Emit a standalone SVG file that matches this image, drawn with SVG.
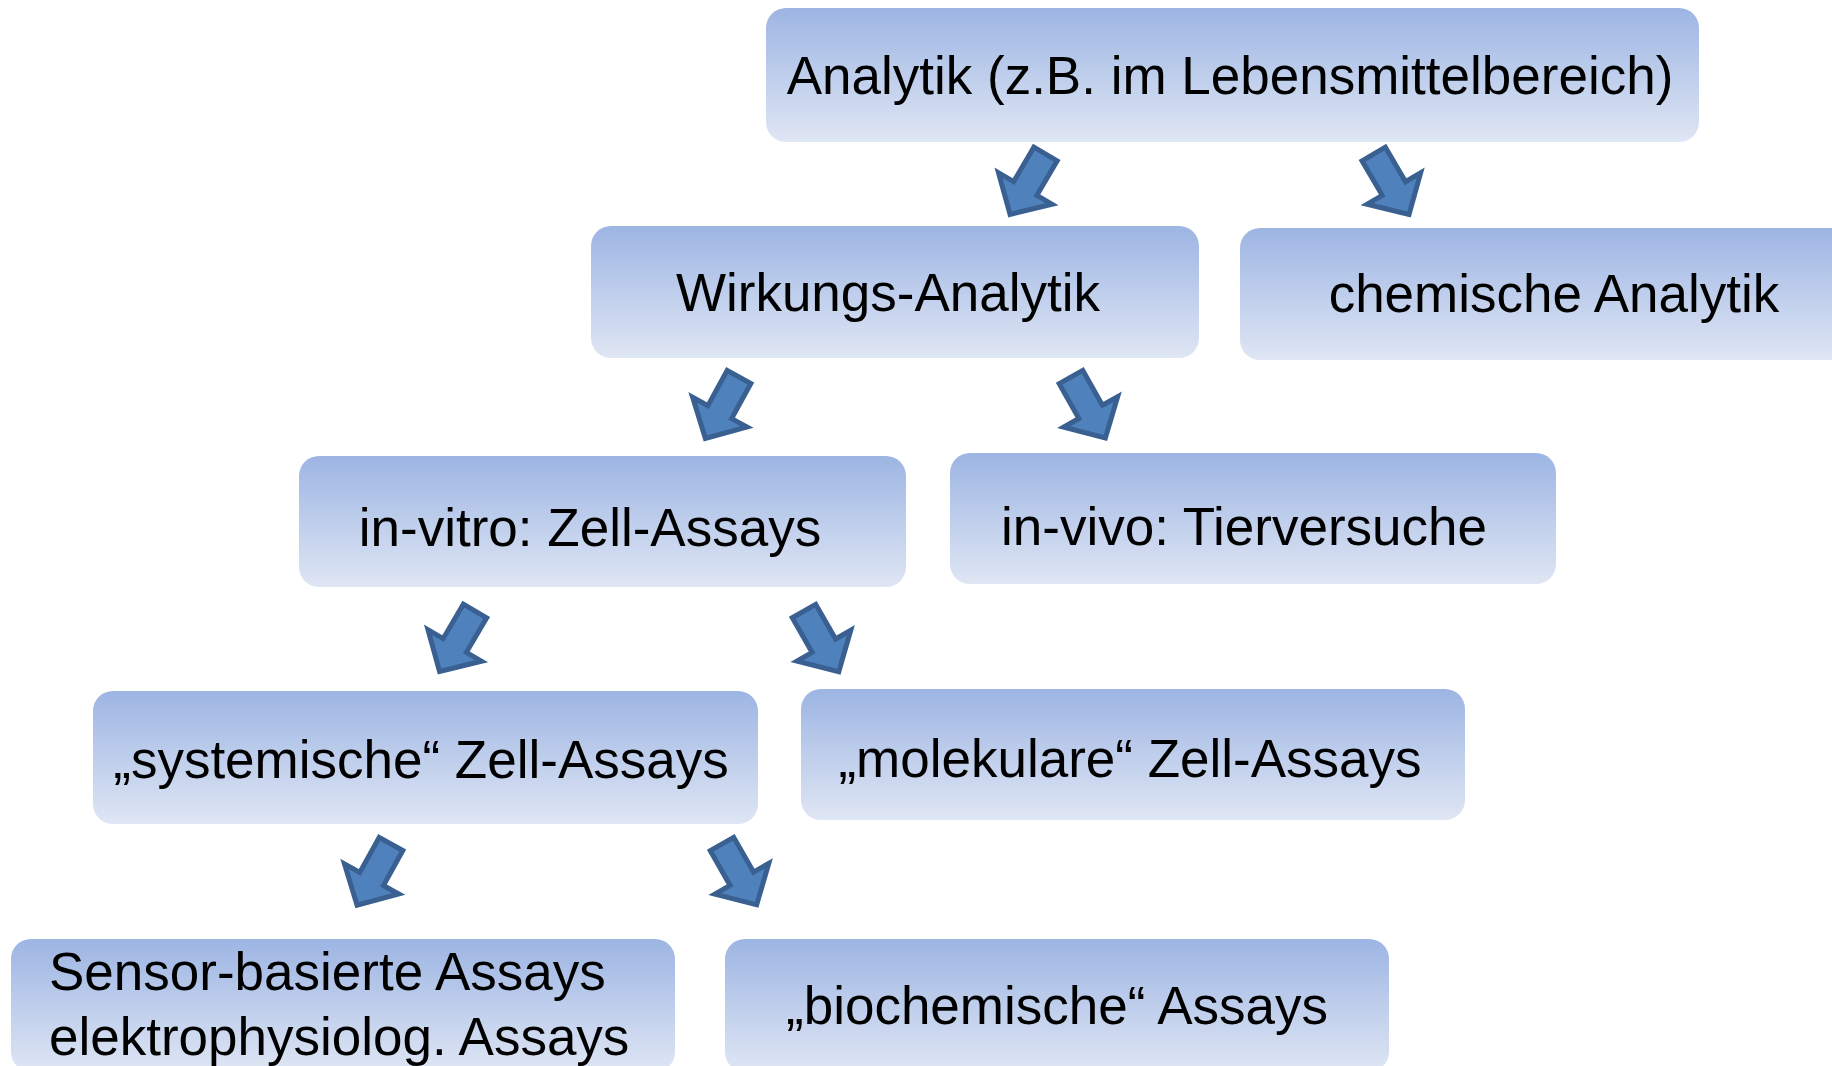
<svg xmlns="http://www.w3.org/2000/svg" width="1832" height="1066" viewBox="0 0 1832 1066">
  <defs>
    <linearGradient id="boxGrad" x1="0" y1="0" x2="0" y2="1">
      <stop offset="0" stop-color="#9db5e3"/>
      <stop offset="1" stop-color="#dfe6f4"/>
    </linearGradient>
    <path id="arrow" d="M -13.5,0 L 13.5,0 L 13.5,40 L 31,40 L 0,70 L -31,40 L -13.5,40 Z"/>
  </defs>
  <style>
    .box { fill: url(#boxGrad); }
    .lbl { font-family: "Liberation Sans", Arial, sans-serif; font-size: 53px; fill: #000; text-anchor: middle; }
    .lbl-l { font-family: "Liberation Sans", Arial, sans-serif; font-size: 53px; fill: #000; text-anchor: start; }
    .arr { fill: #4f81bd; stroke: #3a6091; stroke-width: 5; stroke-linejoin: miter; }
  </style>
  <rect width="1832" height="1066" fill="#ffffff"/>

  <g id="n-analytik">
    <rect class="box" x="766" y="8" width="933" height="134" rx="20"/>
    <text class="lbl" x="1230" y="94">Analytik (z.B. im Lebensmittelbereich)</text>
  </g>
  <g id="n-wirkung">
    <rect class="box" x="591" y="226" width="608" height="132" rx="20"/>
    <text class="lbl" x="888" y="311">Wirkungs-Analytik</text>
  </g>
  <g id="n-chemisch">
    <rect class="box" x="1240" y="228" width="620" height="132" rx="20"/>
    <text class="lbl" x="1554" y="312">chemische Analytik</text>
  </g>
  <g id="n-invitro">
    <rect class="box" x="299" y="456" width="607" height="131" rx="20"/>
    <text class="lbl" x="590" y="546">in-vitro: Zell-Assays</text>
  </g>
  <g id="n-invivo">
    <rect class="box" x="950" y="453" width="606" height="131" rx="20"/>
    <text class="lbl" x="1244" y="545">in-vivo: Tierversuche</text>
  </g>
  <g id="n-systemisch">
    <rect class="box" x="93" y="691" width="665" height="133" rx="20"/>
    <text class="lbl" x="421" y="778">„systemische“ Zell-Assays</text>
  </g>
  <g id="n-molekular">
    <rect class="box" x="801" y="689" width="664" height="131" rx="20"/>
    <text class="lbl" x="1130" y="777">„molekulare“ Zell-Assays</text>
  </g>
  <g id="n-sensor">
    <rect class="box" x="11" y="939" width="664" height="133" rx="20"/>
    <text class="lbl-l" x="49" y="990">Sensor-basierte Assays</text>
    <text class="lbl-l" x="49" y="1055">elektrophysiolog. Assays</text>
  </g>
  <g id="n-biochemisch">
    <rect class="box" x="725" y="939" width="664" height="133" rx="20"/>
    <text class="lbl" x="1057" y="1024">„biochemische“ Assays</text>
  </g>

  <g id="connectors">
    <use href="#arrow" class="arr" transform="translate(1045.5,154) rotate(30.4)"/>
    <use href="#arrow" class="arr" transform="translate(1373.7,154) rotate(-30.3)"/>
    <use href="#arrow" class="arr" transform="translate(739,377) rotate(28.7)"/>
    <use href="#arrow" class="arr" transform="translate(1071,377) rotate(-29.4)"/>
    <use href="#arrow" class="arr" transform="translate(475,611) rotate(30.4)"/>
    <use href="#arrow" class="arr" transform="translate(804,611) rotate(-29.8)"/>
    <use href="#arrow" class="arr" transform="translate(391,844) rotate(29)"/>
    <use href="#arrow" class="arr" transform="translate(722,844) rotate(-29.7)"/>
  </g>
</svg>
